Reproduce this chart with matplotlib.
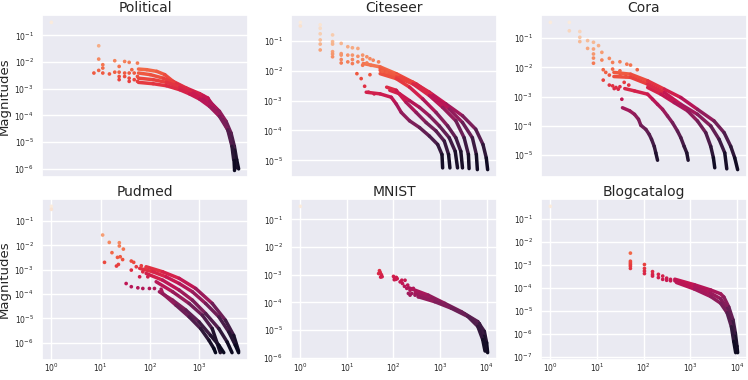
import numpy as np
import matplotlib
matplotlib.use("Agg")
import matplotlib.pyplot as plt
import seaborn as sns
from matplotlib.collections import LineCollection
from matplotlib.ticker import LogLocator, NullLocator
from matplotlib.colors import Normalize

sns.set_theme(style="darkgrid")
plt.rcParams['font.family'] = ['DejaVu Sans']

titles = ["Political", "Citeseer", "Cora", "Pudmed", "MNIST", "Blogcatalog"]

# ---------------- Political ----------------
political_pt_rank = [1, 6, 6, 5, 6, 7, 7, 7, 9, 11, 11, 13, 13, 13, 13, 16, 16, 16,
                     19, 19, 19, 19, 21, 23, 23, 26, 26, 26]
political_pt_mag = [0.31, 0.041, 0.013, 3.9e-3, 4.9e-3, 8.0e-3, 6.0e-3, 3.9e-3, 3.6e-3,
                    0.0113, 4.2e-3, 6.9e-3, 4.2e-3, 2.9e-3, 2.2e-3, 0.0106, 3.9e-3, 2.9e-3,
                    9.8e-3, 3.9e-3, 2.5e-3, 1.9e-3, 5.2e-3, 3.9e-3, 2.2e-3, 9.2e-3, 2.9e-3, 1.9e-3]
political_curve_rank = [
    [27, 37, 54, 73, 100, 165, 273, 373, 423, 578, 743, 896, 1016, 1109, 1195],
    [27, 42, 69, 113, 187, 309, 397, 543, 743, 896, 1016, 1081],
    [27, 47, 78, 129, 212, 309, 450, 655, 841, 978, 1028],
    [27, 47, 78, 129, 187, 273, 397, 578, 791, 929, 990, 990],
]
political_curve_mag = [
    [5.5e-3, 5.2e-3, 4.5e-3, 3.4e-3, 1.9e-3, 1.07e-3, 6.6e-4, 4.5e-4, 2.9e-4, 1.43e-4, 6.0e-5, 2.2e-5, 7.0e-6, 2.2e-6, 9.9e-7],
    [3.9e-3, 3.4e-3, 2.5e-3, 1.55e-3, 8.7e-4, 5.5e-4, 3.4e-4, 1.56e-4, 5.2e-5, 1.65e-5, 5.2e-6, 1.08e-6],
    [2.5e-3, 2.2e-3, 1.74e-3, 1.16e-3, 7.0e-4, 4.1e-4, 1.9e-4, 7.0e-5, 2.2e-5, 5.2e-6, 1.08e-6],
    [1.74e-3, 1.55e-3, 1.3e-3, 9.2e-4, 6.4e-4, 4.1e-4, 2.2e-4, 9.3e-5, 2.9e-5, 7.0e-6, 2.2e-6, 9.3e-7],
]

# ---------------- Citeseer ----------------
citeseer_pt_rank = [1, 1, 2.35, 2.35, 2.35, 2.35, 2.35, 2.35, 4.0, 4.0, 4.0, 4.0, 4.0, 4.0,
                    5.8, 5.8, 5.8, 5.8, 5.8, 7.7, 7.7, 7.7, 9.4, 9.4, 9.4, 9.4, 11.9, 11.9, 11.9,
                    14.6, 14.6, 14.6, 17.5, 17.5, 20, 23, 29, 11.4, 13.7, 15.9, 18.8, 24, 34, 41, 20, 21]
citeseer_pt_mag = [0.41, 0.31, 0.34, 0.26, 0.17, 0.106, 0.077, 0.049, 0.156, 0.093, 0.077, 0.043,
                   0.036, 0.029, 0.081, 0.037, 0.033, 0.0235, 0.018, 0.063, 0.033, 0.0196, 0.058,
                   0.033, 0.0235, 0.0172, 0.055, 0.030, 0.0196, 0.033, 0.0235, 0.0151, 0.029, 0.018,
                   0.025, 0.0223, 0.0196, 7.9e-3, 5.4e-3, 3.0e-3, 1.9e-3, 1.67e-3, 9.5e-3, 9.0e-3,
                   7.3e-3, 0.015]
citeseer_curve_rank = [
    [15, 31, 62, 127, 258, 527, 1074, 1897, 2594, 2992, 3170],
    [31, 72, 146, 298, 607, 1074, 1644, 1950, 2037],
    [31, 62, 127, 258, 457, 807, 1153, 1387, 1426],
    [31, 62, 110, 194, 344, 566, 807, 1000, 1074],
    [47, 72, 110, 169, 258, 396, 607, 785, 867],
    [41, 62, 95, 146, 224, 344, 491, 590, 625],
    [17, 31, 50, 62, 77, 110, 169, 258, 369, 444, 457],
]
citeseer_curve_mag = [
    [0.0172, 0.0133, 7.9e-3, 4.1e-3, 1.9e-3, 7.7e-4, 3.1e-4, 1.1e-4, 3.4e-5, 1.2e-5, 4.9e-6],
    [0.0117, 6.1e-3, 3.6e-3, 1.47e-3, 5.2e-4, 1.84e-4, 5.7e-5, 1.57e-5, 4.9e-6],
    [0.0102, 6.1e-3, 3.6e-3, 1.47e-3, 5.9e-4, 2.1e-4, 5.7e-5, 1.57e-5, 5.3e-6],
    [7.9e-3, 5.4e-3, 2.8e-3, 1.13e-3, 4.0e-4, 1.42e-4, 5.7e-5, 2.0e-5, 5.6e-6],
    [2.2e-3, 1.67e-3, 9.9e-4, 5.9e-4, 3.1e-4, 1.42e-4, 5.7e-5, 2.0e-5, 5.6e-6],
    [2.8e-3, 2.2e-3, 8.7e-4, 4.0e-4, 1.84e-4, 9.6e-5, 4.4e-5, 1.57e-5, 5.6e-6],
    [1.9e-3, 1.67e-3, 1.29e-3, 7.7e-4, 4.0e-4, 2.1e-4, 1.25e-4, 6.5e-5, 3.4e-5, 1.57e-5, 5.6e-6],
]

# ---------------- Cora ----------------
cora_pt_rank = [1, 2.2, 2.2, 3.4, 3.4, 3.4, 4.7, 4.7, 6.0, 6.0, 6.0, 6.0, 6.0, 7.4, 8.5, 8.5,
                9.0, 9.0, 11.6, 11.6, 11.6, 13.3, 13.3, 18, 18, 18, 18, 14.2, 19.5, 24, 28, 37,
                23, 21.5, 26, 13.3, 15.3, 16.8, 10]
cora_pt_mag = [0.35, 0.35, 0.18, 0.17, 0.108, 0.077, 0.083, 0.045, 0.073, 0.043, 0.029, 0.021,
               0.014, 0.056, 0.033, 0.018, 8.4e-3, 3.7e-3, 0.0205, 5.5e-3, 2.5e-3, 0.0149, 8.8e-3,
               0.0157, 7.7e-3, 5.2e-3, 2.2e-3, 1.9e-3, 8.2e-4, 0.013, 0.0121, 8.4e-3, 4.9e-3,
               3.1e-3, 2.5e-3, 2.35e-3, 2.07e-3, 1.81e-3, 6.8e-3]
cora_curve_rank = [
    [14, 28, 57, 114, 226, 452, 902, 1368, 1803, 2128, 2400],
    [14, 28, 57, 114, 226, 452, 785, 1109, 1405, 1528],
    [57, 99, 172, 299, 452, 638, 785, 877, 927],
    [22, 33, 57, 70, 86, 106, 130, 160, 197, 226, 260, 290, 307],
    [20, 27, 33, 39, 43, 53, 61, 67, 75, 80, 86],
]
cora_curve_mag = [
    [6.8e-3, 5.9e-3, 3.5e-3, 1.81e-3, 9.4e-4, 3.7e-4, 1.48e-4, 5.9e-5, 2.0e-5, 8.1e-6, 3.2e-6],
    [4.9e-3, 4.6e-3, 2.7e-3, 1.39e-3, 5.5e-4, 2.5e-4, 1.0e-4, 3.5e-5, 1.2e-5, 3.4e-6],
    [2.07e-3, 1.22e-3, 6.3e-4, 3.3e-4, 1.48e-4, 5.9e-5, 2.0e-5, 8.1e-6, 3.7e-6],
    [1.9e-3, 1.58e-3, 1.22e-3, 8.2e-4, 5.5e-4, 3.7e-4, 2.2e-4, 1.29e-4, 6.7e-5, 4.0e-5, 2.0e-5, 1.2e-5, 6.7e-6],
    [4.2e-4, 3.3e-4, 2.5e-4, 1.69e-4, 1.05e-4, 7.6e-5, 5.1e-5, 3.5e-5, 2.0e-5, 1.2e-5, 6.7e-6],
]

# ---------------- Pudmed ----------------
pudmed_pt_rank = [1, 1, 11, 15, 24, 24, 29, 17, 12, 22, 25, 28, 21, 23, 42, 47, 53, 42, 67, 72,
                  84, 62, 91, 33, 42, 57, 72, 98, 124]
pudmed_pt_mag = [0.4, 0.3, 0.0265, 0.0132, 0.0128, 9.4e-3, 7.0e-3, 5.0e-3, 2.0e-3, 3.2e-3, 3.4e-3,
                 2.6e-3, 1.41e-3, 1.64e-3, 2.26e-3, 2.0e-3, 1.32e-3, 9.6e-4, 1.45e-3, 8.2e-4,
                 1.2e-3, 5.1e-4, 5.1e-4, 2.7e-4, 2.0e-4, 1.8e-4, 1.69e-4, 1.69e-4, 1.69e-4]
pudmed_curve_rank = [
    [84, 182, 394, 853, 1849, 3428, 5047, 6353],
    [62, 115, 213, 394, 731, 1358, 2518, 4000, 5445, 6353],
    [84, 182, 394, 731, 1358, 2518, 3707, 4667],
    [134, 290, 627, 1164, 1849, 2700],
    [156, 290, 537, 995, 1710, 2518, 3177],
    [169, 182, 338, 627, 1076, 1585, 1995, 2158],
]
pudmed_curve_mag = [
    [1.32e-3, 8.2e-4, 4.4e-4, 1.69e-4, 4.1e-5, 8.4e-6, 2.0e-6, 4.5e-7],
    [1.13e-3, 8.2e-4, 5.1e-4, 2.7e-4, 1.24e-4, 4.1e-5, 1.16e-5, 2.8e-6, 7.9e-7, 3.9e-7],
    [7.0e-4, 3.7e-4, 1.45e-4, 5.6e-5, 1.58e-5, 3.8e-6, 1.08e-6, 3.9e-7],
    [3.2e-4, 1.24e-4, 4.1e-5, 1.35e-5, 3.8e-6, 3.9e-7],
    [1.24e-4, 5.6e-5, 2.2e-5, 7.2e-6, 2.0e-6, 7.9e-7, 3.9e-7],
    [1.59e-4, 1.05e-4, 3.5e-5, 1.16e-5, 3.8e-6, 1.26e-6, 5.8e-7, 3.9e-7],
]

# ---------------- MNIST ----------------
mnist_pt_rank = [1, 50, 52, 55, 57, 53, 48, 100, 105, 110, 115, 120, 104, 112, 151, 156, 172,
                 193, 209, 227, 246, 290, 341, 139, 177, 202, 227, 267, 299, 370]
mnist_pt_mag = [0.30, 1.4e-3, 1.2e-3, 1.0e-3, 8.5e-4, 8.2e-4, 1.1e-3, 8.7e-4, 7.8e-4, 7.0e-4,
                8.0e-4, 7.2e-4, 6.6e-4, 6.8e-4, 6.3e-4, 4.8e-4, 3.8e-4, 3.2e-4, 2.1e-4, 2.75e-4,
                2.1e-4, 1.82e-4, 1.59e-4, 5.5e-4, 6.3e-4, 4.2e-4, 1.82e-4, 3.2e-4, 2.4e-4, 2.1e-4]
mnist_curve_rank = [
    [209, 557, 1259, 2851, 6457, 8933, 10020, 10520],
    [290, 656, 1483, 3357, 7000, 8650, 9700],
    [341, 773, 1746, 3954, 6457, 8241, 9226],
]
mnist_curve_mag = [
    [3.4e-4, 1.82e-4, 9.2e-5, 4.6e-5, 2.0e-5, 8.9e-6, 3.4e-6, 1.5e-6],
    [2.1e-4, 1.39e-4, 7.4e-5, 3.8e-5, 1.68e-5, 5.9e-6, 1.73e-6],
    [1.59e-4, 1.05e-4, 6.1e-5, 3.07e-5, 1.35e-5, 4.5e-6, 1.73e-6],
]

# ---------------- Blogcatalog ----------------
blog_pt_rank = [1, 52, 52, 52, 52, 52, 52, 104, 104, 104, 104, 155, 155, 155, 207, 207, 256, 256,
                311, 311, 377, 377]
blog_pt_mag = [0.35, 3.2e-3, 1.42e-3, 1.2e-3, 1.02e-3, 8.7e-4, 6.9e-4, 1.02e-3, 6.9e-4, 5.3e-4,
               4.1e-4, 5.0e-4, 3.8e-4, 3.2e-4, 3.8e-4, 2.75e-4, 3.2e-4, 2.3e-4, 2.6e-4, 2.1e-4,
               2.3e-4, 2.0e-4]
blog_curve_rank = [
    [465, 1225, 2748, 4467, 5250, 6683, 8260, 9250, 10020, 10350],
    [465, 1225, 2748, 4467, 6166, 7870, 8950, 9700],
    [504, 1225, 2748, 4467, 6166, 7600, 8530, 9400],
]
blog_curve_mag = [
    [2.34e-4, 1.34e-4, 7.9e-5, 5.4e-5, 3.9e-5, 1.44e-5, 3.9e-6, 1.05e-6, 2.8e-7, 1.47e-7],
    [1.98e-4, 1.1e-4, 5.7e-5, 3.3e-5, 1.23e-5, 3.3e-6, 7.6e-7, 1.74e-7],
    [1.68e-4, 8.7e-5, 4.1e-5, 2.1e-5, 8.0e-6, 2.0e-6, 4.6e-7, 1.47e-7],
]

datasets = [
    (political_pt_rank, political_pt_mag, political_curve_rank, political_curve_mag),
    (citeseer_pt_rank, citeseer_pt_mag, citeseer_curve_rank, citeseer_curve_mag),
    (cora_pt_rank, cora_pt_mag, cora_curve_rank, cora_curve_mag),
    (pudmed_pt_rank, pudmed_pt_mag, pudmed_curve_rank, pudmed_curve_mag),
    (mnist_pt_rank, mnist_pt_mag, mnist_curve_rank, mnist_curve_mag),
    (blog_pt_rank, blog_pt_mag, blog_curve_rank, blog_curve_mag),
]

cmap = sns.color_palette("rocket", as_cmap=True)

fig = plt.figure(figsize=(7.48, 3.8), dpi=100)
W, H = 748.0, 380.0
col_left = [42, 291, 541]
ax_w = 206
row_top = [15, 199]
row_h = [162, 161]

for i, (title, (pr, pm, crs, cms)) in enumerate(zip(titles, datasets)):
    row, col = divmod(i, 3)
    left = col_left[col] / W
    bottom = 1 - (row_top[row] + row_h[row]) / H
    ax = fig.add_axes([left, bottom, ax_w / W, row_h[row] / H])
    ax.set_xscale('log')
    ax.set_yscale('log')
    pr = np.asarray(pr, float)
    pm = np.asarray(pm, float)
    all_r = np.concatenate([pr] + [np.asarray(r, float) for r in crs])
    all_m = np.concatenate([pm] + [np.asarray(m, float) for m in cms])
    norm = Normalize(np.log10(all_m.min()), np.log10(all_m.max()))
    for r, m in zip(crs, cms):
        r = np.asarray(r, float)
        m = np.asarray(m, float)
        pts = np.column_stack([r, m])
        segs = np.stack([pts[:-1], pts[1:]], axis=1)
        cols = cmap(norm(np.log10(np.sqrt(m[:-1] * m[1:]))))
        lc = LineCollection(segs, colors=cols, linewidths=2.5,
                            capstyle='round', joinstyle='round', zorder=2)
        ax.add_collection(lc, autolim=False)
    ax.scatter(pr, pm, c=np.log10(pm), cmap=cmap, norm=norm, s=7,
               linewidths=0, zorder=3)
    ax.update_datalim(np.column_stack([all_r, all_m]))
    ax.autoscale_view()
    ax.yaxis.set_major_locator(LogLocator(base=10, numticks=20))
    ax.yaxis.set_minor_locator(NullLocator())
    ax.tick_params(axis='y', labelsize=5.5, pad=6, length=0, colors='#262626')
    if row == 0:
        ax.xaxis.set_major_locator(NullLocator())
        ax.xaxis.set_minor_locator(NullLocator())
    else:
        ax.xaxis.set_major_locator(LogLocator(base=10, numticks=20))
        ax.xaxis.set_minor_locator(NullLocator())
        ax.tick_params(axis='x', labelsize=5.5, pad=1.0, length=0, colors='#262626')
    ax.set_title(title, fontsize=10, pad=2.5, color='#262626')
    if col == 0:
        ax.set_ylabel("Magnitudes", fontsize=9.5, color='#262626')
        ax.yaxis.set_label_coords((11 - 42) / ax_w, 0.5)

fig.savefig("out.png", dpi=100)
